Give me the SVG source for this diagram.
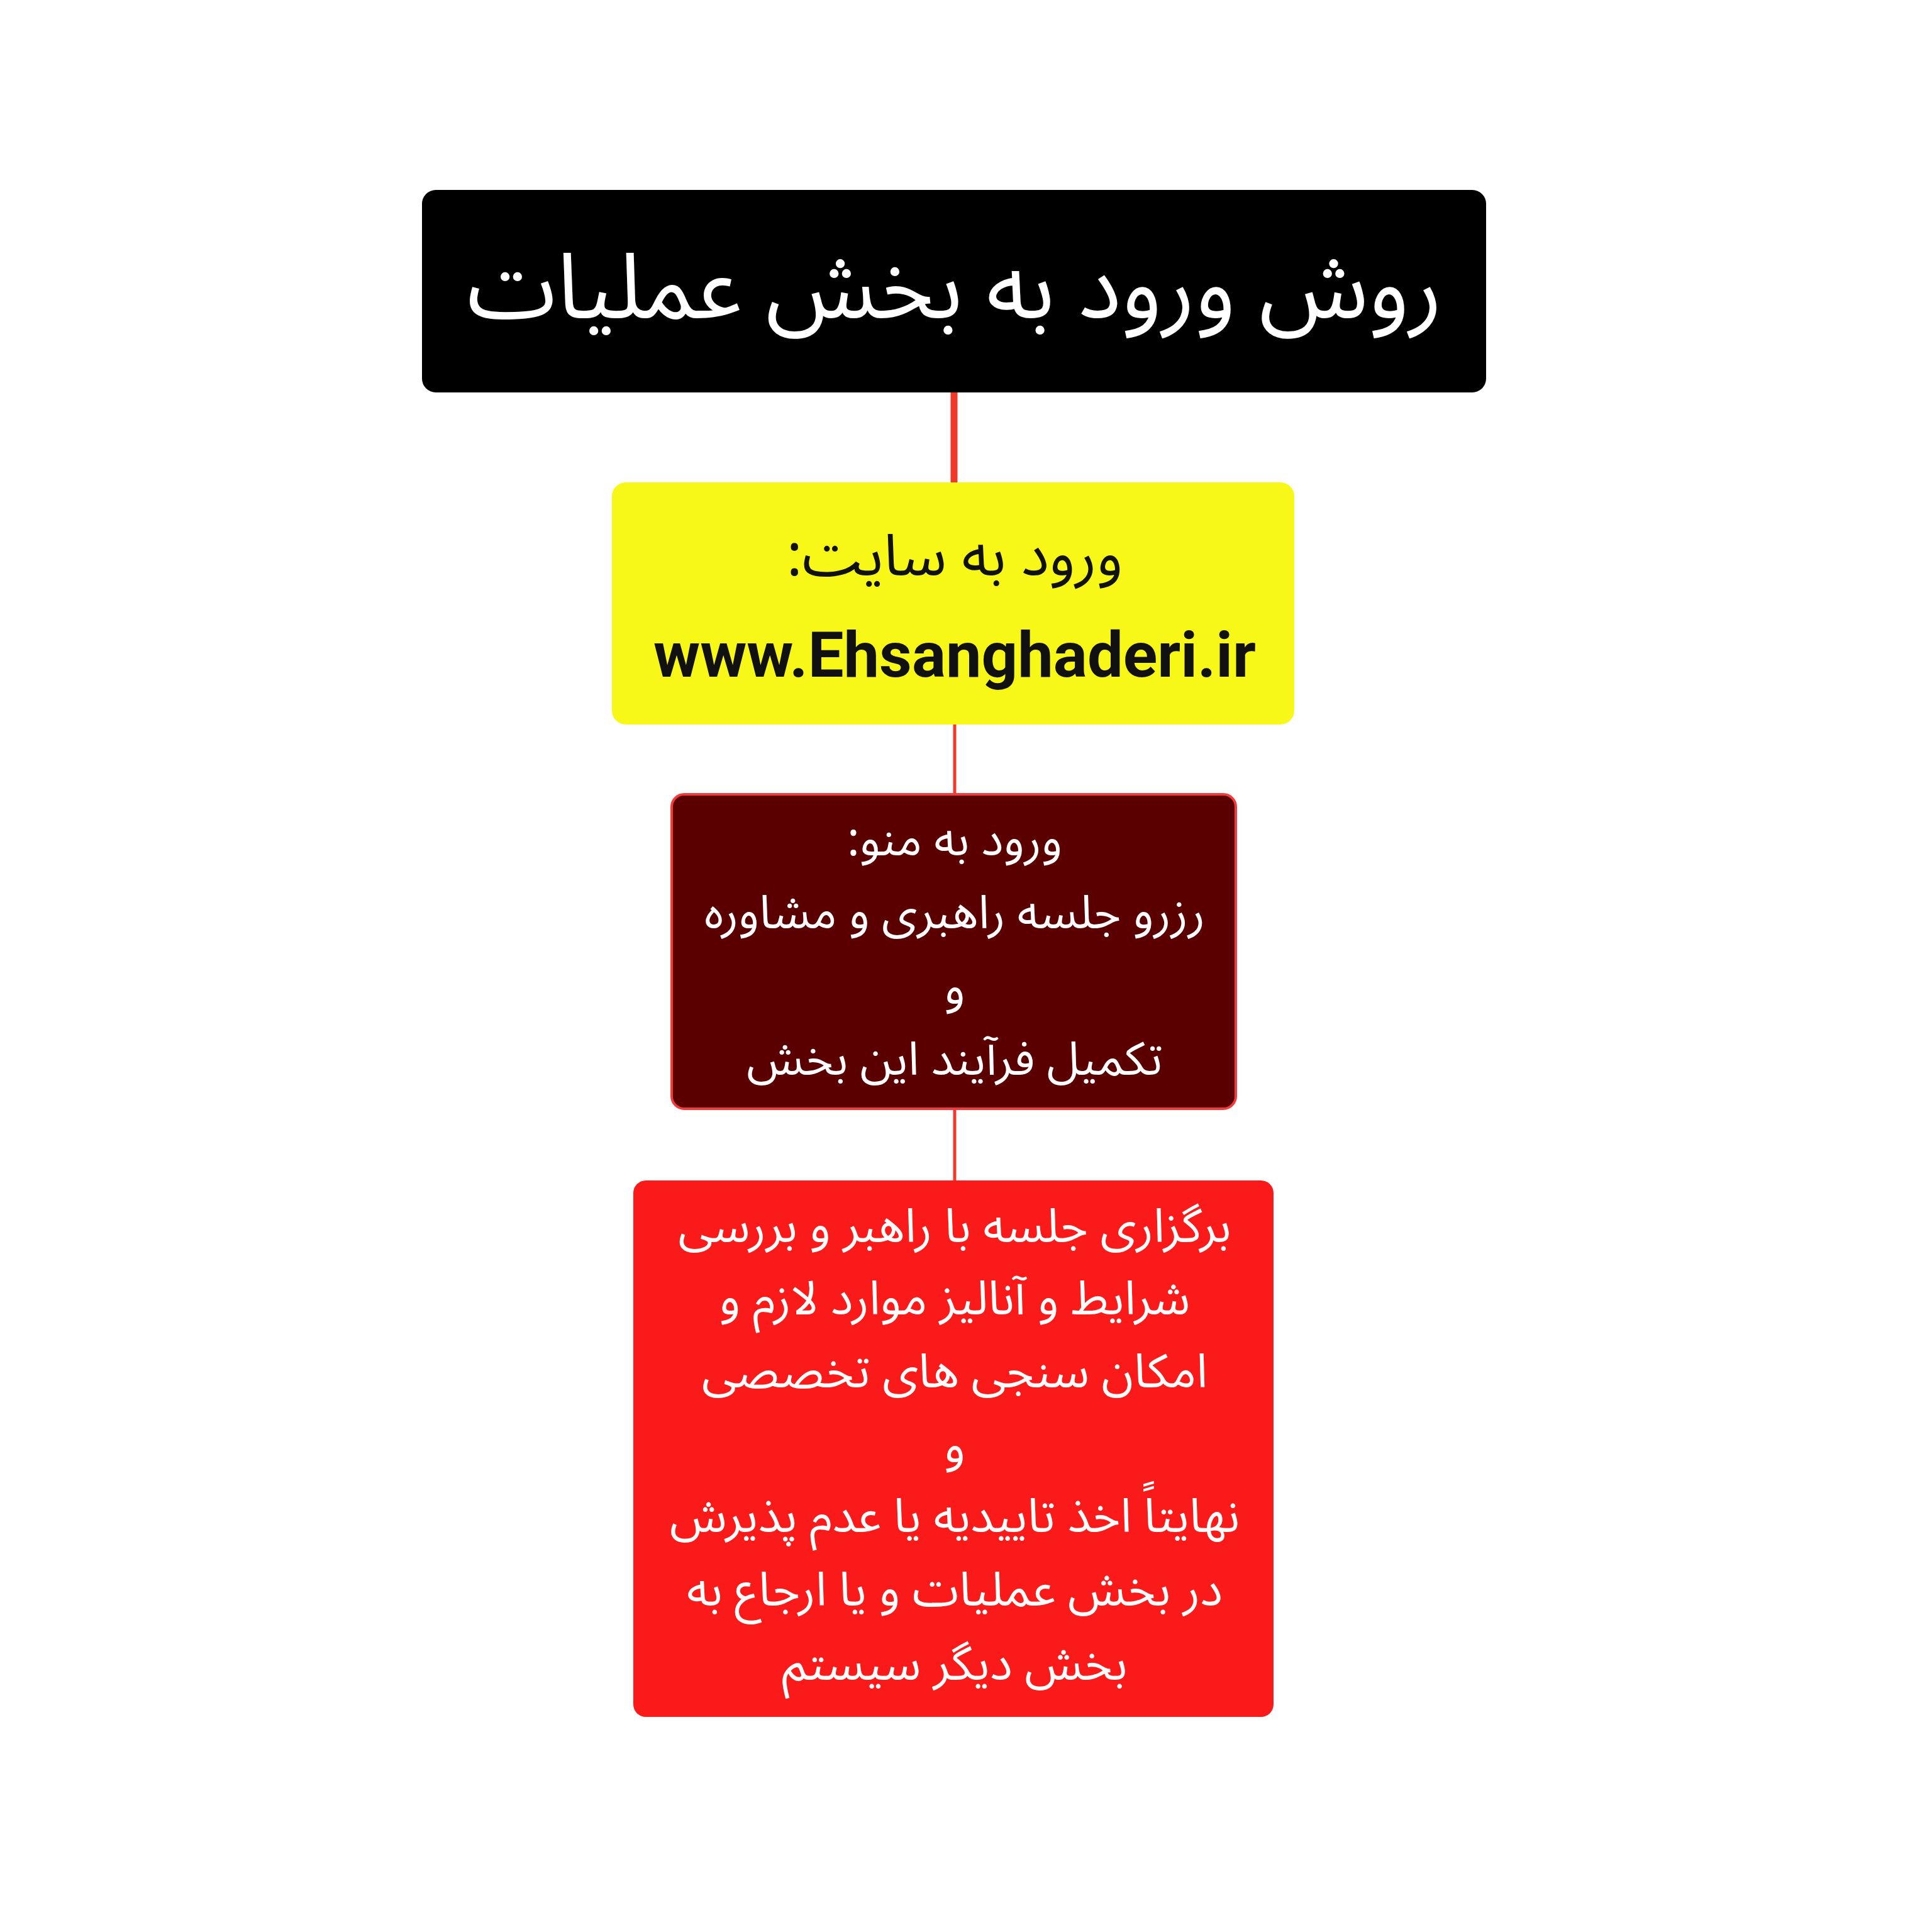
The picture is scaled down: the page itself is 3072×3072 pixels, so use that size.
<svg xmlns="http://www.w3.org/2000/svg" width="3072" height="3072" viewBox="0 0 3072 3072">
<style>
.fa{font-family:"Noto Sans Arabic","DejaVu Sans","Noto Sans",sans-serif;text-anchor:middle;direction:rtl}
.w{fill:#ffffff}
.m{font-size:74px}
.r{font-size:75px}
.conn{stroke:#f0392b;fill:none}
</style>
<rect width="3072" height="3072" fill="#ffffff"/>
<g id="connectors">
<line class="conn" x1="1517" y1="620" x2="1517" y2="770" stroke-width="11"/>
<line class="conn" x1="1518" y1="1150" x2="1518" y2="1265" stroke-width="5"/>
<line class="conn" x1="1518" y1="1762" x2="1518" y2="1880" stroke-width="5"/>
</g>
<g id="node-title">
<rect x="671" y="302" width="1692" height="322" rx="22" fill="#000000"/>
<text class="fa w" x="1518" y="505" font-size="144">روش ورود به بخش عملیات</text>
</g>
<g id="node-site">
<rect x="973" y="767" width="1085" height="385" rx="22" fill="#f7f718"/>
<text class="fa" x="1518" y="915" font-size="93" fill="#111111">ورود به سایت:</text>
<text x="1518" y="1076" font-family="Roboto,'Liberation Sans',sans-serif" font-weight="700" font-size="101" text-anchor="middle" fill="#111111">www.Ehsanghaderi.ir</text>
</g>
<g id="node-menu">
<rect x="1068" y="1263" width="897" height="500" rx="20" fill="#5a0000" stroke="#f03c3c" stroke-width="4"/>
<text class="fa w m" x="1518" y="1360">ورود به منو:</text>
<text class="fa w m" x="1518" y="1476">رزرو جلسه راهبری و مشاوره</text>
<text class="fa w m" x="1518" y="1596">و</text>
<text class="fa w m" x="1518" y="1709">تکمیل فرآیند این بخش</text>
</g>
<g id="node-result">
<rect x="1007" y="1877" width="1018" height="853" rx="20" fill="#fb1a1a"/>
<text class="fa w r" x="1518" y="1975">برگزاری جلسه با راهبر و بررسی</text>
<text class="fa w r" x="1518" y="2090">شرایط و آنالیز موارد لازم و</text>
<text class="fa w r" x="1518" y="2206">امکان سنجی های تخصصی</text>
<text class="fa w r" x="1518" y="2325">و</text>
<text class="fa w r" x="1518" y="2436">نهایتاً اخذ تاییدیه یا عدم پذیرش</text>
<text class="fa w r" x="1518" y="2553">در بخش عملیات و یا ارجاع به</text>
<text class="fa w r" x="1518" y="2671">بخش دیگر سیستم</text>
</g>
</svg>
